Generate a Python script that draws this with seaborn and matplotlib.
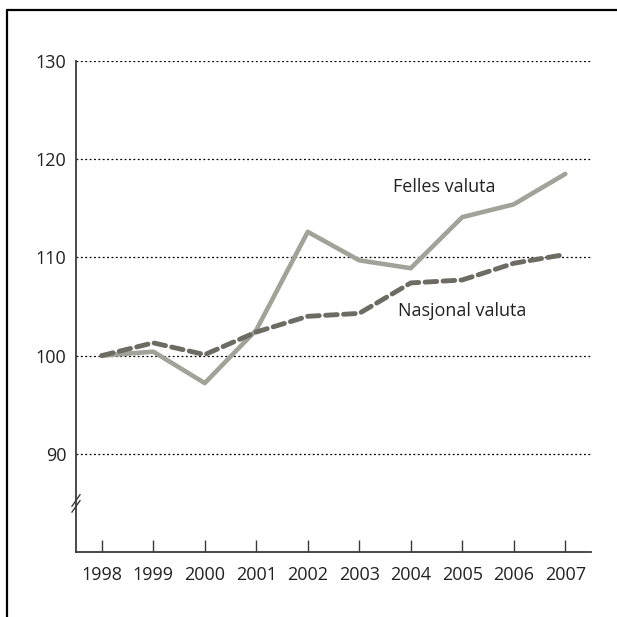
import matplotlib
matplotlib.use("Agg")
import matplotlib.pyplot as plt
from matplotlib.lines import Line2D
import seaborn as sns
import pandas as pd

# index values, 1998 = 100
years = [1998, 1999, 2000, 2001, 2002, 2003, 2004, 2005, 2006, 2007]
felles = [100.0, 100.4, 97.2, 102.6, 112.6, 109.7, 108.9, 114.1, 115.4, 118.5]
nasjonal = [100.0, 101.3, 100.1, 102.4, 104.0, 104.3, 107.4, 107.7, 109.4, 110.3]
yticks = [90, 100, 110, 120, 130]

sns.set_style("white")
plt.rcParams["font.family"] = ["Open Sans", "DejaVu Sans"]

df = pd.DataFrame({"year": years, "felles": felles, "nasjonal": nasjonal})

fig = plt.figure(figsize=(6.17, 6.17), dpi=100)
ax = fig.add_axes([76 / 617, 65 / 617, 515 / 617, 491 / 617])

for y in yticks:
    ax.axhline(y, color="black", lw=0.9, ls=(0, (1.5, 2)), zorder=1)

sns.lineplot(data=df, x="year", y="felles", ax=ax, color="#a2a398", lw=3.3,
             zorder=3, solid_capstyle="round")
sns.lineplot(data=df, x="year", y="nasjonal", ax=ax, color="#6c6c63", lw=3.5,
             ls=(0, (2.4, 1.3)), dash_capstyle="round", zorder=4)

ax.set_xlim(1997.5, 2007.5)
ax.set_ylim(80, 130)
ax.set_xticks(years)
ax.set_xticklabels([str(y) for y in years])
ax.set_yticks(yticks)
ax.set_xlabel("")
ax.set_ylabel("")
ax.tick_params(axis="x", direction="in", length=9, width=1, color="#3a3a3a",
               labelsize=13, labelcolor="#222222", pad=10, bottom=True)
ax.tick_params(axis="y", length=0, labelsize=13, labelcolor="#222222", pad=7)

for side in ["top", "right"]:
    ax.spines[side].set_visible(False)
for side in ["left", "bottom"]:
    ax.spines[side].set_color("#3a3a3a")
    ax.spines[side].set_linewidth(1.3)

# axis break marks on the y axis
for dy in (-0.012, 0.0):
    ax.plot([-0.008, 0.008], [0.105 + dy - 0.012, 0.105 + dy + 0.012],
            transform=ax.transAxes, color="#3a3a3a", lw=1, clip_on=False)

ax.text(2004.65, 117.2, "Felles valuta", fontsize=13, color="#222222",
        ha="center", va="center")
ax.text(2005.0, 104.5, "Nasjonal valuta", fontsize=13, color="#222222",
        ha="center", va="center")

# outer frame (top and left)
fig.add_artist(Line2D([7 / 617, 1.0], [1 - 10 / 617, 1 - 10 / 617],
                      color="black", lw=1.6, transform=fig.transFigure))
fig.add_artist(Line2D([7 / 617, 7 / 617], [0, 1 - 10 / 617],
                      color="black", lw=1.6, transform=fig.transFigure))

fig.savefig("out.png", dpi=100)
